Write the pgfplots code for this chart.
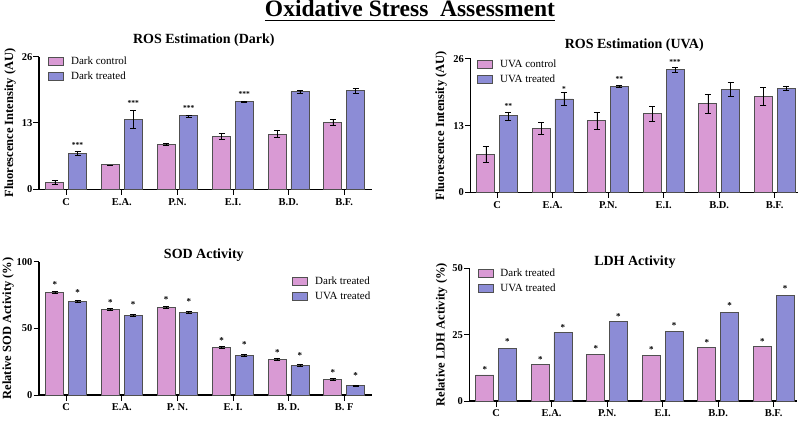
\documentclass[border=0pt]{standalone}
\usepackage{pgfplots}
\pgfplotsset{compat=1.18}
\usepackage{pgfplotstable}
\usepackage{fontspec}
\setmainfont{Liberation Serif}
\definecolor{pinkc}{HTML}{D99AD4}
\definecolor{bluec}{HTML}{8C8CD6}
\definecolor{edgec}{HTML}{505050}
\newcommand{\legtxt}[1]{\fontsize{11}{13}\selectfont #1}

% Panel data
\pgfplotstableread{
x  c     ce    t     te
0  1.3   0.4   7.0   0.4
1  4.8   0.0   13.7  1.8
2  8.8   0.2   14.4  0.2
3  10.4  0.5   17.2  0.15
4  10.8  0.7   19.1  0.35
5  13.1  0.55  19.3  0.45
}\darkdata
\pgfplotstableread{
x     y     s
0.204 8.6   ***
1.204 17.0  ***
2.204 16.0  ***
3.204 18.6  ***
}\darkstars
\pgfplotstableread{
x  c     ce    t     te
0  7.4   1.6   14.9  0.8
1  12.5  1.1   18.2  1.3
2  14.0  1.7   20.7  0.15
3  15.3  1.4   23.9  0.5
4  17.3  1.8   20.1  1.4
5  18.7  1.7   20.3  0.45
}\uvadata
\pgfplotstableread{
x     y     s
0.204 16.8  **
1.204 20.1  *
2.204 22.1  **
3.204 25.5  ***
}\uvastars
\pgfplotstableread{
x  c     ce    t     te
0  77    0.7   70    0.7
1  64    0.8   60    0.7
2  66    0.7   62    0.8
3  36    0.8   30    0.7
4  27    0.8   22    0.8
5  12    0.7   7     0.6
}\soddata
\pgfplotstableread{
x      y     s
-0.204 82.5  *
0.204  77.0  *
0.796  69.5  *
1.204  68.0  *
1.796  71.7  *
2.204  70.0  *
2.796  41.2  *
3.204  37.5  *
3.796  31.7  *
4.204  29.5  *
4.796  17.0  *
5.204  14.5  *
}\sodstars
\pgfplotstableread{
x  c     t
0  9.8   19.9
1  13.6  25.9
2  17.6  29.9
3  17.1  26.3
4  20.1  33.4
5  20.5  39.9
}\ldhdata
\pgfplotstableread{
x      y     s
-0.204 11.7  *
0.204  22.4  *
0.796  15.8  *
1.204  27.6  *
1.796  19.8  *
2.204  31.8  *
2.796  19.3  *
3.204  28.3  *
3.796  22.1  *
4.204  35.9  *
4.796  22.4  *
5.204  42.5  *
}\ldhstars

\pgfplotsset{
  panel/.style={
    scale only axis, anchor=south west,
    axis x line*=bottom, axis y line*=left,
    axis line style={-, line width=1.1pt, black},
    tick align=outside, major tick length=5.5pt,
    tick style={black, line width=1pt},
    xtick={0,...,5}, ymin=0, enlargelimits=false, clip=false,
    /pgf/number format/assume math mode=true,
    tick label style={font=\bfseries\fontsize{10.5}{12}\selectfont},
    yticklabel style={inner sep=1pt},
    title style={font=\bfseries\fontsize{14}{16}\selectfont, anchor=base},
    legend cell align=left,
    legend style={draw=none, fill=none, anchor=north west, inner sep=0pt,
      row sep=5pt,
      nodes={inner sep=0pt, text height=8pt, text depth=2pt},
      /tikz/every odd column/.append style={column sep=7pt}},
  },
  ylab/.style={every axis y label/.style={at={(axis description cs:#1,0.5)},
      rotate=90, anchor=center, font=\bfseries\fontsize{12.5}{14}\selectfont}},
  ttl/.style 2 args={title style={at={(axis description cs:#1,1)}, yshift=#2}},
  legbox/.style={legend image code/.code={\draw[##1] (0pt,-4pt) rectangle (15pt,4pt);}},
  barA/.style={ybar, bar width=18pt, bar shift=0pt, fill=pinkc, draw=edgec, line width=0.9pt, forget plot},
  barB/.style={ybar, bar width=18pt, bar shift=0pt, fill=bluec, draw=edgec, line width=0.9pt, forget plot},
  errs/.style={error bars/.cd, y dir=both, y explicit,
      error bar style={black, line width=0.6pt},
      error mark options={rotate=90, mark size=3pt, black, line width=0.6pt}},
  stars/.style={draw=none, mark=none, forget plot, nodes near coords,
      point meta=explicit symbolic,
      every node near coord/.style={anchor=center, inner sep=0pt,
        font=\bfseries\fontsize{#1}{#1}\selectfont}},
}

\begin{document}
\begin{tikzpicture}[x=1pt,y=1pt]
\useasboundingbox (0,0) rectangle (805,423);

% Main title
\node[anchor=base, inner sep=0pt, font=\bfseries\fontsize{23.5}{26}\selectfont] (mt) at (410,406) {Oxidative Stress\ \ Assessment};
\draw[line width=1.1pt] ([yshift=-3.3pt]mt.base west) -- ([yshift=-3.3pt]mt.base east);

% Panel 1: ROS Dark
\begin{axis}[panel, at={(39pt,233.7pt)}, width=333pt, height=132.6pt,
  xmin=-0.49, xmax=5.5, ymax=26, ytick={0,13,26},
  xticklabels={C,E.A.,P.N.,E.I.,B.D.,B.F.},
  title={ROS Estimation (Dark)}, ttl={0.495}{7pt},
  ylabel={Fluorescence Intensity (AU)}, ylab={-0.087},
  legend style={at={(axis description cs:0.027,1.0)}}]
\addlegendimage{legbox, fill=pinkc, draw=edgec, line width=0.9pt}
\addlegendentry{\legtxt{Dark control}}
\addlegendimage{legbox, fill=bluec, draw=edgec, line width=0.9pt}
\addlegendentry{\legtxt{Dark treated}}
\addplot[barA, errs] table[x expr=\thisrow{x}-0.204, y=c, y error=ce] {\darkdata};
\addplot[barB, errs] table[x expr=\thisrow{x}+0.204, y=t, y error=te] {\darkdata};
\addplot[stars=7.5] table[x=x, y=y, meta=s] {\darkstars};
\end{axis}

% Panel 2: ROS UVA
\begin{axis}[panel, at={(470.5pt,230.7pt)}, width=327.5pt, height=133.3pt,
  xmin=-0.48, xmax=5.42, ymax=26, ytick={0,13,26},
  xticklabels={C,E.A.,P.N.,E.I.,B.D.,B.F.},
  title={ROS Estimation (UVA)}, ttl={0.5}{4.5pt},
  ylabel={Fluorescence Intensity (AU)}, ylab={-0.09},
  legend style={at={(axis description cs:0.02,1.0)}}]
\addlegendimage{legbox, fill=pinkc, draw=edgec, line width=0.9pt}
\addlegendentry{\legtxt{UVA control}}
\addlegendimage{legbox, fill=bluec, draw=edgec, line width=0.9pt}
\addlegendentry{\legtxt{UVA treated}}
\addplot[barA, errs] table[x expr=\thisrow{x}-0.204, y=c, y error=ce] {\uvadata};
\addplot[barB, errs] table[x expr=\thisrow{x}+0.204, y=t, y error=te] {\uvadata};
\addplot[stars=7.5] table[x=x, y=y, meta=s] {\uvastars};
\end{axis}

% Panel 3: SOD
\begin{axis}[panel, at={(39pt,28pt)}, width=333pt, height=133.3pt,
  xmin=-0.49, xmax=5.5, ymax=100, ytick={0,50,100},
  xticklabels={C,E.A.,P. N.,E. I.,B. D.,B. F},
  title={SOD Activity}, ttl={0.495}{-3pt},
  ylabel={Relative SOD Activity (\%)}, ylab={-0.093},
  legend style={at={(axis description cs:0.76,0.89)}}]
\addlegendimage{legbox, fill=pinkc, draw=edgec, line width=0.9pt}
\addlegendentry{\legtxt{Dark treated}}
\addlegendimage{legbox, fill=bluec, draw=edgec, line width=0.9pt}
\addlegendentry{\legtxt{UVA treated}}
\addplot[barA, errs] table[x expr=\thisrow{x}-0.204, y=c, y error=ce] {\soddata};
\addplot[barB, errs] table[x expr=\thisrow{x}+0.204, y=t, y error=te] {\soddata};
\addplot[stars=9] table[x=x, y=y, meta=s] {\sodstars};
\end{axis}

% Panel 4: LDH
\begin{axis}[panel, at={(469.5pt,22pt)}, width=327.5pt, height=132.7pt,
  xmin=-0.48, xmax=5.42, ymax=50, ytick={0,25,50},
  xticklabels={C,E.A.,P.N.,E.I.,B.D.,B.F.},
  title={LDH Activity}, ttl={0.505}{-3.3pt},
  ylabel={Relative LDH Activity (\%)}, ylab={-0.085},
  legend style={at={(axis description cs:0.024,1.0)}}]
\addlegendimage{legbox, fill=pinkc, draw=edgec, line width=0.9pt}
\addlegendentry{\legtxt{Dark treated}}
\addlegendimage{legbox, fill=bluec, draw=edgec, line width=0.9pt}
\addlegendentry{\legtxt{UVA treated}}
\addplot[barA] table[x expr=\thisrow{x}-0.204, y=c] {\ldhdata};
\addplot[barB] table[x expr=\thisrow{x}+0.204, y=t] {\ldhdata};
\addplot[stars=9] table[x=x, y=y, meta=s] {\ldhstars};
\end{axis}
\end{tikzpicture}
\end{document}
